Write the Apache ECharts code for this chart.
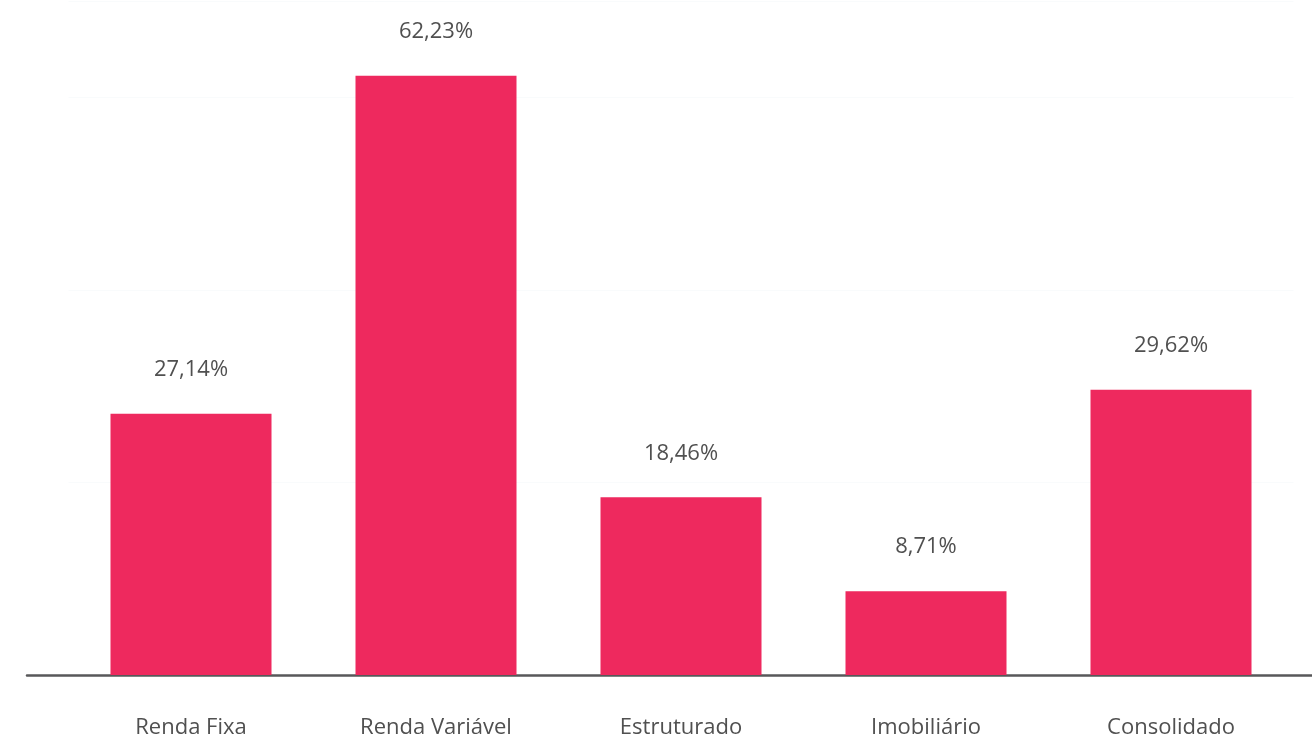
<!DOCTYPE html>
<html>
<head>
<meta charset="utf-8">
<script src="https://cdn.jsdelivr.net/npm/echarts@6/dist/echarts.min.js"></script>
<style>
  html, body { margin: 0; padding: 0; background: #fff; }
  #chart { width: 1312px; height: 738px; }
</style>
</head>
<body>
<div id="chart"></div>
<script>
// categories and values
const categories = ["Renda Fixa", "Renda Variável", "Estruturado", "Imobiliário", "Consolidado"]
const returns = [27.14, 62.23, 18.46, 8.71, 29.62]

const barColor = "#ee295e"
const textColor = "#505050"
const font = "'Open Sans', 'Noto Sans', sans-serif"

// 62,23% style
function pct(v) {
  return v.toFixed(2).replace(".", ",") + "%"
}

const chart = echarts.init(document.getElementById("chart"))

chart.setOption({
  animation: false,
  grid: [
    // bars
    { left: 68.5, right: 18.5, top: 1, bottom: 63, containLabel: false, outerBoundsMode: "none" },
    // the base line runs wider than the bars' bands
    { left: 27, right: 0, top: 1, bottom: 63, containLabel: false, outerBoundsMode: "none" }
  ],
  xAxis: [
    {
      type: "category",
      gridIndex: 0,
      data: categories,
      axisLine: { show: false },
      axisTick: { show: false },
      axisLabel: {
        color: textColor,
        fontSize: 22,
        fontFamily: font,
        margin: 42
      }
    },
    {
      type: "category",
      gridIndex: 1,
      data: [""],
      axisLine: { show: true, lineStyle: { color: "#58585a", width: 2.5 } },
      axisTick: { show: false },
      axisLabel: { show: false }
    }
  ],
  yAxis: [
    {
      type: "value",
      gridIndex: 0,
      min: 0,
      max: 70,
      interval: 20,
      axisLine: { show: false },
      axisTick: { show: false },
      axisLabel: { show: false },
      splitLine: { show: true, lineStyle: { color: "#f9fbfc", width: 1 } }
    },
    {
      type: "value",
      gridIndex: 1,
      min: 0,
      max: 70,
      show: false
    }
  ],
  series: [
    {
      type: "bar",
      xAxisIndex: 0,
      yAxisIndex: 0,
      data: returns,
      barWidth: 161,
      itemStyle: { color: barColor },
      label: {
        show: true,
        position: "top",
        distance: 33,
        color: textColor,
        fontSize: 22,
        fontFamily: font,
        formatter: p => pct(p.value)
      }
    }
  ]
})
</script>
</body>
</html>
